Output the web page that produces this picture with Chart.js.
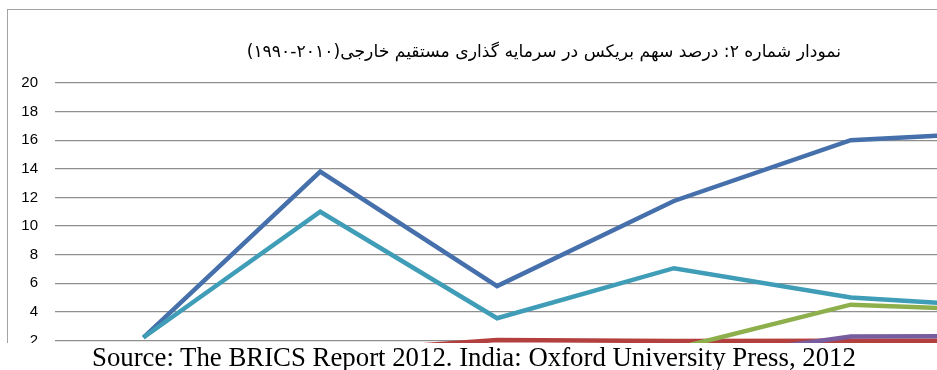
<!DOCTYPE html>
<html lang="fa">
<head>
<meta charset="utf-8">
<title>درصد سهم بریکس در سرمایه گذاری مستقیم خارجی</title>
<script src="https://cdn.jsdelivr.net/npm/chart.js@4.4.1/dist/chart.umd.min.js"></script>
<style>
  html, body { margin: 0; padding: 0; background: #fff; width: 937px; height: 370px; overflow: hidden; }
  #view { position: absolute; left: 0; top: 0; width: 937px; height: 343px; overflow: hidden; }
  #frame { position: absolute; left: 7px; top: 9px; width: 1200px; height: 500px;
           border-top: 1px solid #a3a3a3; border-left: 1px solid #a3a3a3; }
  #plot { position: absolute; left: 0; top: 0; width: 1117px; height: 400px; }
  #caption { position: absolute; right: 96px; top: 43px; direction: rtl; white-space: nowrap;
             font-family: "DejaVu Sans", sans-serif; font-size: 17.2px; line-height: 1; color: #000; }
  #source { position: absolute; left: 92px; top: 344px; white-space: nowrap;
            font-family: "Liberation Serif", "Times New Roman", serif; font-size: 26.8px; line-height: 1; color: #000; }
</style>
</head>
<body>
<div id="view">
  <div id="frame"></div>
  <div id="plot"><canvas id="chart" width="1117" height="400"></canvas></div>
  <div id="caption">نمودار شماره ۲: درصد سهم بریکس در سرمایه گذاری مستقیم خارجی(۲۰۱۰-۱۹۹۰)</div>
</div>
<div id="source">Source: The BRICS Report 2012. India: Oxford University Press, 2012</div>
<script>
// Years on the category axis
const years = ['1990', '1995', '2000', '2005', '2009', '2010'];

// Share of world FDI inflows (%), one array per series
const seriesA = [2.2, 13.8, 5.8, 11.75, 16.0, 16.65];
const seriesB = [0.9, 1.15, 2.02, 1.96, 1.97, 1.97];
const seriesC = [0.4, 0.9, 1.1, 1.4, 4.5, 4.03];
const seriesD = [0.4, 0.5, 0.45, 0.55, 2.27, 2.3];
const seriesE = [2.2, 11.0, 3.55, 7.05, 5.0, 4.25];

// Value axis range and step
const yMin = 0;
const yMax = 20;
const yStep = 2;

const lineStyle = (color, order) => ({
  borderColor: color,
  backgroundColor: color,
  borderWidth: 4.5,
  pointRadius: 0,
  tension: 0,
  fill: false,
  order: order
});

new Chart(document.getElementById('chart'), {
  type: 'line',
  data: {
    labels: years,
    datasets: [
      Object.assign({ label: 'A', data: seriesA }, lineStyle('#4570ab', 5)),
      Object.assign({ label: 'B', data: seriesB }, lineStyle('#b3403e', 4)),
      Object.assign({ label: 'C', data: seriesC }, lineStyle('#8db04d', 3)),
      Object.assign({ label: 'D', data: seriesD }, lineStyle('#775c9e', 2)),
      Object.assign({ label: 'E', data: seriesE }, lineStyle('#3f9db7', 1))
    ]
  },
  options: {
    responsive: false,
    animation: false,
    devicePixelRatio: 1,
    layout: { padding: { left: 0, top: 83, right: 1, bottom: 1 } },
    plugins: {
      legend: { display: false },
      tooltip: { enabled: false },
      title: { display: false }
    },
    scales: {
      x: {
        offset: true,
        grid: { display: false },
        border: { display: false },
        ticks: { color: '#000', font: { family: 'Liberation Sans', size: 15 } },
        afterFit: (s) => { s.height = 30; }
      },
      y: {
        min: yMin,
        max: yMax,
        grid: { color: '#8f8f8f', lineWidth: 1.3, drawTicks: false },
        border: { display: false },
        ticks: {
          stepSize: yStep,
          padding: 17,
          color: '#000',
          font: { family: 'Liberation Sans', size: 15 }
        },
        afterFit: (s) => { s.width = 55; }
      }
    }
  }
});
</script>
</body>
</html>
